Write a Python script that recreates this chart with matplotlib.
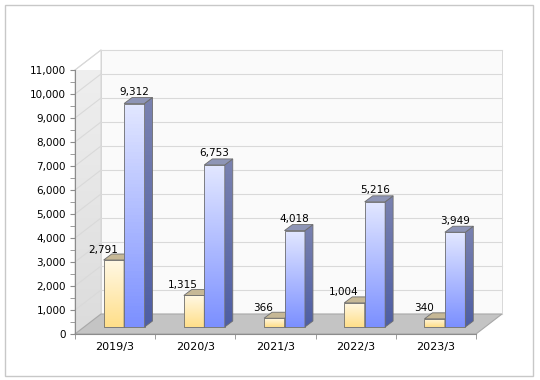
import numpy as np
import matplotlib
matplotlib.use("Agg")
import matplotlib.pyplot as plt
from matplotlib.patches import Polygon, Rectangle
from matplotlib.ticker import MultipleLocator, FuncFormatter

categories = ["2019/3", "2020/3", "2021/3", "2022/3", "2023/3"]
series_a = [2791, 1315, 366, 1004, 340]      # yellow
series_b = [9312, 6753, 4018, 5216, 3949]    # blue
y_max = 11000

W, H, DPI = 540, 380, 100
fig = plt.figure(figsize=(W / DPI, H / DPI), dpi=DPI)

# front plane of the 3d box (pixels)
left_px, right_px, top_px, bottom_px = 75, 476, 70, 334
ax = fig.add_axes([left_px / W, 1 - bottom_px / H,
                   (right_px - left_px) / W, (bottom_px - top_px) / H])
n = len(categories)
ax.set_xlim(-0.5, n - 0.5)
ax.set_ylim(0, y_max)
ax.patch.set_visible(False)

# pixel -> data helpers
ppx = (right_px - left_px) / n
ppy = (bottom_px - top_px) / y_max
def dx(px):
    return px / ppx
def dy(px):
    return px / ppy

depth = (26, 20)
x0, x1 = -0.5, n - 0.5
DX, DY = dx(depth[0]), dy(depth[1])

# outer frame
fig.add_artist(Rectangle((5 / W, 1 - 376 / H), 528 / W, 371 / H, transform=fig.transFigure,
                         fill=False, ec="#c8c8c8", lw=1.0))

# back wall
ax.add_patch(Polygon([(x0 + DX, DY), (x1 + DX, DY), (x1 + DX, y_max + DY), (x0 + DX, y_max + DY)],
                     closed=True, fc="#fafafa", ec="#d8d8d8", lw=0.7, clip_on=False, zorder=0))
# side wall with gradient
side = Polygon([(x0, 0), (x0 + DX, DY), (x0 + DX, y_max + DY), (x0, y_max)],
               closed=True, fc="none", ec="#d4d4d4", lw=0.7, clip_on=False, zorder=1)
ax.add_patch(side)
grad = np.linspace(0, 1, 64).reshape(-1, 1)
im = ax.imshow(grad, cmap=matplotlib.colors.LinearSegmentedColormap.from_list("sw", ["#dcdcdc", "#f0f0f0"]),
               extent=(x0, x0 + DX, 0, y_max + DY), origin="lower", aspect="auto", zorder=0.5)
im.set_clip_path(side)

# grid lines on back and side walls
for v in range(0, y_max + 1, 1000):
    ax.plot([x0 + DX, x1 + DX], [v + DY, v + DY], color="#d9d9d9", lw=0.8, clip_on=False, zorder=1.2)
    ax.plot([x0, x0 + DX], [v, v + DY], color="#d9d9d9", lw=0.8, clip_on=False, zorder=1.2)

# floor
ax.add_patch(Polygon([(x0, 0), (x1, 0), (x1 + DX, DY), (x0 + DX, DY)], closed=True,
                     fc="#c4c4c4", ec="#a8a8a8", lw=0.8, clip_on=False, zorder=2))

# bars
bw = 0.255
f_off = (dx(9), dy(7))
b_dep = (dx(8), dy(6))

def gradient_face(verts, c_top, c_bot, zo):
    poly = Polygon(verts, closed=True, fc="none", ec="#6e6e6e", lw=0.6, clip_on=False, zorder=zo + 0.1)
    ax.add_patch(poly)
    xs = [p[0] for p in verts]
    ys = [p[1] for p in verts]
    cm = matplotlib.colors.LinearSegmentedColormap.from_list("g", [c_bot, c_top])
    img = ax.imshow(grad, cmap=cm, extent=(min(xs), max(xs), min(ys), max(ys)),
                    origin="lower", aspect="auto", zorder=zo)
    img.set_clip_path(poly)

def bar3d(xl, val, front_top, front_bot, side_top, side_bot, top_col, zo):
    fx, fy = xl + f_off[0], f_off[1]
    xr = fx + bw
    bx, by = b_dep
    gradient_face([(fx, fy), (xr, fy), (xr, fy + val), (fx, fy + val)], front_top, front_bot, zo)
    gradient_face([(xr, fy), (xr + bx, fy + by), (xr + bx, fy + val + by), (xr, fy + val)],
                  side_top, side_bot, zo + 0.2)
    ax.add_patch(Polygon([(fx, fy + val), (xr, fy + val), (xr + bx, fy + val + by), (fx + bx, fy + val + by)],
                         closed=True, fc=top_col, ec="#6e6e6e", lw=0.6, clip_on=False, zorder=zo + 0.3))
    return fx + bw / 2, fy + val

xs = np.arange(n)
for i in range(n):
    cx, ty = bar3d(xs[i] - bw, series_a[i], "#fff8e4", "#ffdf8a", "#c8b07a", "#b09860", "#c6b896", 3 + i)
    ax.text(cx - dx(11), ty + dy(7.5), f"{series_a[i]:,}", ha="center", va="baseline",
            fontsize=7.5, color="#000000", zorder=10)
    cx, ty = bar3d(xs[i], series_b[i], "#e2e7ff", "#7c90ff", "#7a82b0", "#4e5ea4", "#8e95b6", 3.5 + i)
    ax.text(cx, ty + dy(8.5), f"{series_b[i]:,}", ha="center", va="baseline",
            fontsize=7.5, color="#000000", zorder=10)

ax.set_xlim(-0.5, n - 0.5)
ax.set_ylim(0, y_max)

# axes styling
for s in ["top", "right"]:
    ax.spines[s].set_visible(False)
ax.spines["left"].set_color("#8c8c8c")
ax.spines["bottom"].set_color("#8c8c8c")
ax.spines["left"].set_zorder(2.5)
ax.spines["bottom"].set_zorder(2.5)

ax.yaxis.set_major_locator(MultipleLocator(1000))
ax.yaxis.set_minor_locator(MultipleLocator(500))
ax.yaxis.set_major_formatter(FuncFormatter(lambda v, p: f"{int(v):,}"))
ax.tick_params(axis="y", which="both", direction="out", length=3.6, color="#8c8c8c",
               labelsize=7.5, labelcolor="#000000", pad=3)

ax.set_xticks(xs)
ax.set_xticklabels(categories)
ax.set_xticks(np.arange(-0.5, n, 1.0), minor=True)
ax.tick_params(axis="x", which="major", length=0, labelsize=8, labelcolor="#000000", pad=5.5)
ax.tick_params(axis="x", which="minor", direction="out", length=3.6, color="#8c8c8c")

fig.savefig("out.png", dpi=DPI)
